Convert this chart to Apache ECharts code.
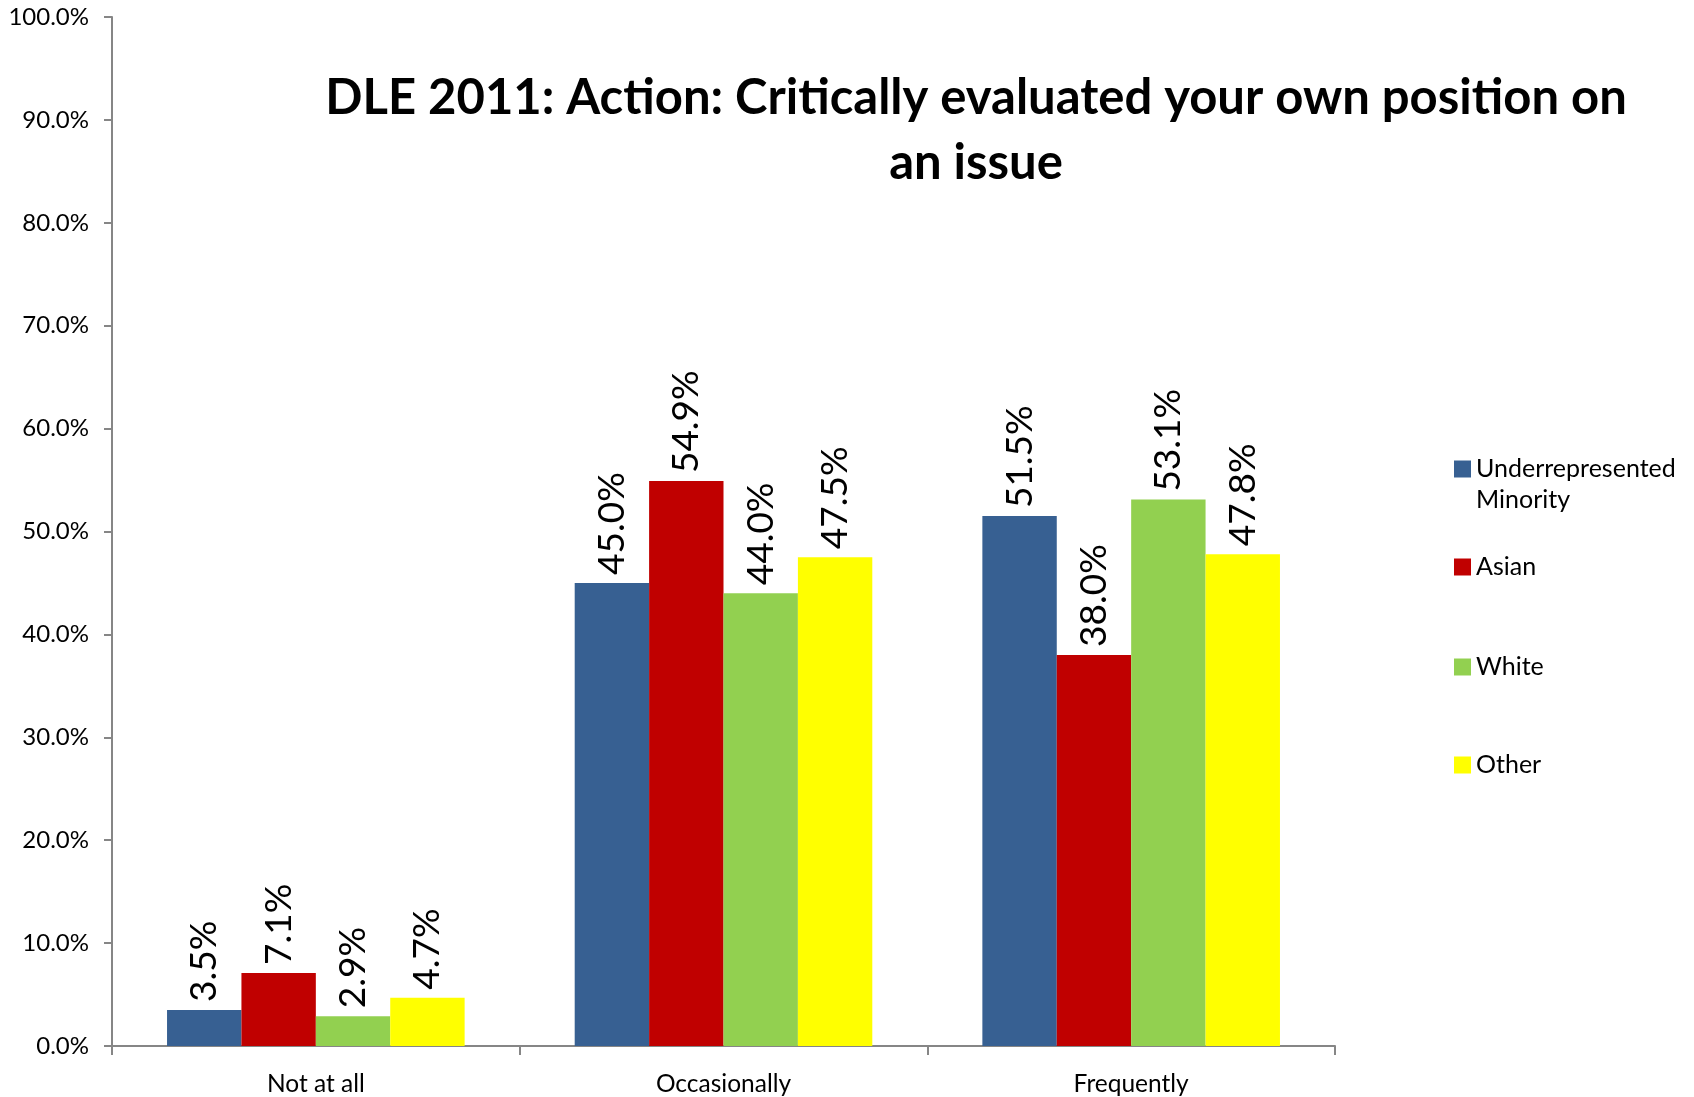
<!DOCTYPE html>
<html>
<head>
<meta charset="utf-8">
<script src="https://cdn.jsdelivr.net/npm/echarts@6/dist/echarts.min.js"></script>
<style>
  html, body { margin: 0; padding: 0; background: #fff; }
  #chart { width: 1694px; height: 1097px; }
</style>
</head>
<body>
<div id="chart"></div>
<script>
var categories = ['Not at all', 'Occasionally', 'Frequently'];
var groupNames = ['Underrepresented Minority', 'Asian', 'White', 'Other'];
var urmValues = [3.5, 45.0, 51.5];
var asianValues = [7.1, 54.9, 38.0];
var whiteValues = [2.9, 44.0, 53.1];
var otherValues = [4.7, 47.5, 47.8];
var yTicks = [0, 10, 20, 30, 40, 50, 60, 70, 80, 90, 100];

var colors = ['#376092', '#C00000', '#92D050', '#FFFF00'];
var font = 'Lato';
var chart = echarts.init(document.getElementById('chart'));

var seriesValues = [urmValues, asianValues, whiteValues, otherValues];
var series = [];
for (var i = 0; i < groupNames.length; i++) {
    series.push({
        name: groupNames[i],
        type: 'bar',
        data: seriesValues[i],
        barGap: '0%',
        barCategoryGap: '27%',
        itemStyle: { color: colors[i] },
        label: {
            show: true,
            position: 'top',
            distance: 8,
            rotate: 90,
            align: 'left',
            verticalAlign: 'middle',
            fontFamily: font,
            fontSize: 37,
            color: '#000',
            formatter: function (p) { return p.value.toFixed(1) + '%'; }
        }
    });
}

// legend: one block per group; the long name wraps, first line level with the square
var legendCenters = [469, 567, 667, 765];
var legends = [];
for (var k = 0; k < groupNames.length; k++) {
    var twoLine = k === 0;
    legends.push({
        data: [groupNames[k]],
        left: 1454,
        top: twoLine ? legendCenters[k] - 46.5 : legendCenters[k] - 15.5,
        padding: 0,
        icon: 'rect',
        itemWidth: 17,
        itemHeight: 17,
        selectedMode: false,
        formatter: function (name) {
            if (name === 'Underrepresented Minority') {
                return '{t| }\n{t|Underrepresented}\n{t|Minority}';
            }
            return name;
        },
        textStyle: {
            fontFamily: font,
            fontSize: 25,
            lineHeight: 31,
            color: '#000',
            rich: {
                t: { fontFamily: font, fontSize: 25, lineHeight: 31, color: '#000' }
            }
        }
    });
}

var option = {
    backgroundColor: '#fff',
    animation: false,
    title: {
        text: 'DLE 2011: Action: Critically evaluated your own position on\nan issue',
        left: 976,
        top: 66,
        padding: 0,
        textAlign: 'center',
        textStyle: {
            fontFamily: font,
            fontWeight: 'bold',
            fontSize: 49,
            lineHeight: 65,
            color: '#000'
        }
    },
    legend: legends,
    grid: {
        left: 112,
        right: 359,
        top: 17,
        bottom: 50,
        containLabel: false
    },
    xAxis: {
        type: 'category',
        data: categories,
        boundaryGap: true,
        axisLine: { lineStyle: { color: '#868686', width: 2 } },
        axisTick: { show: true, length: 9, lineStyle: { color: '#868686', width: 2 } },
        axisLabel: {
            margin: 26,
            fontFamily: font,
            fontSize: 24.5,
            color: '#000'
        }
    },
    yAxis: {
        type: 'value',
        min: yTicks[0],
        max: yTicks[yTicks.length - 1],
        interval: 10,
        axisLine: { show: true, lineStyle: { color: '#868686', width: 2 } },
        axisTick: { show: true, length: 8, lineStyle: { color: '#868686', width: 2 } },
        splitLine: { show: false },
        axisLabel: {
            margin: 23,
            fontFamily: font,
            fontSize: 24,
            color: '#000',
            formatter: function (v) { return v.toFixed(1) + '%'; }
        }
    },
    series: series
};

chart.setOption(option);
</script>
</body>
</html>
